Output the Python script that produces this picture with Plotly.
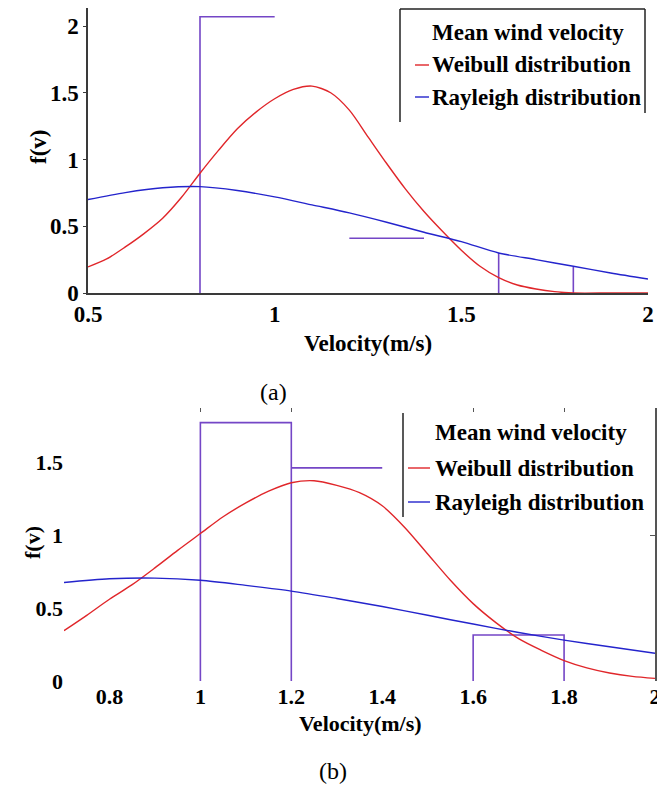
import plotly.graph_objects as go

# page window is 665x788; the browser body margin adds an 8px offset,
# so the figure is 8px smaller and positions are measured from (8, 8)
OFF = 8
W, H = 665 - OFF, 788 - OFF

# ---------------- data ----------------
# Panel (a)
a_weibull_x = [0.5, 0.55, 0.6, 0.65, 0.7, 0.75, 0.8, 0.85, 0.9, 0.95, 1.0, 1.05, 1.1,
               1.15, 1.2, 1.25, 1.3, 1.35, 1.4, 1.45, 1.5, 1.55, 1.6, 1.65, 1.7, 1.75,
               1.8, 1.9, 2.0]
a_weibull_y = [0.195, 0.255, 0.345, 0.445, 0.56, 0.715, 0.897, 1.07, 1.23, 1.355, 1.455, 1.525, 1.55,
               1.50, 1.37, 1.17, 0.97, 0.78, 0.61, 0.46, 0.32, 0.20, 0.115, 0.06, 0.03, 0.01,
               0.0, 0.0, 0.0]
a_rayleigh_x = [0.5, 0.6, 0.7, 0.8, 0.9, 1.0, 1.1, 1.2, 1.3, 1.4, 1.5, 1.6, 1.7, 1.8, 1.9, 2.0]
a_rayleigh_y = [0.70, 0.752, 0.788, 0.797, 0.768, 0.72, 0.66, 0.60, 0.53, 0.455, 0.385,
                0.30, 0.25, 0.20, 0.15, 0.105]
a_mean_x = [0.8, 0.8, 1.0, None, 1.2, 1.4, None, 1.6, 1.6, None, 1.8, 1.8]
a_mean_y = [0, 2.07, 2.07, None, 0.41, 0.41, None, 0, 0.30, None, 0, 0.195]

# Panel (b)
b_weibull_x = [0.7, 0.75, 0.8, 0.85, 0.9, 0.95, 1.0, 1.05, 1.1, 1.15, 1.2, 1.25, 1.3,
               1.35, 1.4, 1.45, 1.5, 1.55, 1.6, 1.65, 1.7, 1.75, 1.8, 1.85, 1.9, 1.95, 2.0]
b_weibull_y = [0.345, 0.45, 0.56, 0.66, 0.775, 0.895, 1.01, 1.125, 1.22, 1.30, 1.358, 1.372,
               1.34, 1.29, 1.20, 1.05, 0.87, 0.69, 0.53, 0.40, 0.29, 0.21, 0.14, 0.09,
               0.055, 0.032, 0.018]
b_rayleigh_x = [0.7, 0.8, 0.9, 1.0, 1.1, 1.2, 1.3, 1.4, 1.5, 1.6, 1.7, 1.8, 1.9, 2.0]
b_rayleigh_y = [0.675, 0.70, 0.705, 0.69, 0.655, 0.616, 0.565, 0.51, 0.45, 0.39,
                0.332, 0.28, 0.235, 0.19]
b_mean_x = [1.0, 1.0, 1.2, 1.2, None, 1.2, 1.4, None, 1.6, 1.6, 1.8, 1.8]
b_mean_y = [0, 1.77, 1.77, 0, None, 1.46, 1.46, None, 0, 0.315, 0.315, 0]

a_xticks = [0.5, 1, 1.5, 2]
a_xticktext = ["0.5", "1", "1.5", "2"]
a_yticks = [0, 0.5, 1, 1.5, 2]
a_yticktext = ["0", "0.5", "1", "1.5", "2"]
b_xticks = [0.8, 1, 1.2, 1.4, 1.6, 1.8, 2]
b_xticktext = ["0.8", "1", "1.2", "1.4", "1.6", "1.8", "2"]
b_yticks = [0, 0.5, 1, 1.5]
b_yticktext = ["0", "0.5", "1", "1.5"]
b_top_ticks = [1, 1.2, 1.6, 1.8]

legend_labels = ["Mean wind velocity", "Weibull distribution", "Rayleigh distribution"]

# ---------------- style ----------------
RED = "#e0262a"
BLUE = "#2424cc"
PURPLE = "#7446c6"
FONT = "Liberation Serif"
AX = "#3a3a3a"


def px(x):
    return min(max((x - OFF) / W, 0.0), 1.0)


def py(y):
    return min(max(1 - (y - OFF) / H, 0.0), 1.0)


fig = go.Figure()
curve = dict(width=1.4, shape="spline", smoothing=0.8)

# panel (a)
fig.add_trace(go.Scatter(x=a_mean_x, y=a_mean_y, mode="lines", line=dict(color=PURPLE, width=1.6),
                         xaxis="x", yaxis="y", showlegend=False, name=legend_labels[0]))
fig.add_trace(go.Scatter(x=a_weibull_x, y=a_weibull_y, mode="lines", line=dict(curve, color=RED),
                         xaxis="x", yaxis="y", showlegend=False, name=legend_labels[1]))
fig.add_trace(go.Scatter(x=a_rayleigh_x, y=a_rayleigh_y, mode="lines", line=dict(curve, color=BLUE),
                         xaxis="x", yaxis="y", showlegend=False, name=legend_labels[2]))

# panel (b)
fig.add_trace(go.Scatter(x=b_mean_x, y=b_mean_y, mode="lines", line=dict(color=PURPLE, width=1.6),
                         xaxis="x2", yaxis="y2", showlegend=False, name=legend_labels[0]))
fig.add_trace(go.Scatter(x=b_weibull_x, y=b_weibull_y, mode="lines", line=dict(curve, color=RED),
                         xaxis="x2", yaxis="y2", showlegend=False, name=legend_labels[1]))
fig.add_trace(go.Scatter(x=b_rayleigh_x, y=b_rayleigh_y, mode="lines", line=dict(curve, color=BLUE),
                         xaxis="x2", yaxis="y2", showlegend=False, name=legend_labels[2]))
# empty traces to activate overlay axes of panel (b)
fig.add_trace(go.Scatter(x=[], y=[], xaxis="x3", yaxis="y2", showlegend=False, hoverinfo="skip"))
fig.add_trace(go.Scatter(x=[], y=[], xaxis="x2", yaxis="y3", showlegend=False, hoverinfo="skip"))

tickfont = dict(family=FONT, size=23, color="black", weight="bold")

fig.update_layout(
    width=W, height=H,
    margin=dict(l=0, r=0, t=0, b=0, pad=0, autoexpand=False),
    showlegend=False,
    paper_bgcolor="white", plot_bgcolor="white",
    xaxis=dict(domain=[px(88), px(648)], anchor="y", range=[0.5, 2.0], automargin=False,
               tickvals=a_xticks, ticktext=a_xticktext, tickfont=tickfont,
               showline=True, linecolor=AX, linewidth=1.5, ticks="", showgrid=False,
               zeroline=False),
    yaxis=dict(domain=[py(293), py(8)], anchor="x", range=[0, 2.135], automargin=False,
               tickvals=a_yticks, ticktext=a_yticktext, tickfont=tickfont,
               showline=True, linecolor=AX, linewidth=1.5, ticks="outside", ticklen=3,
               tickcolor=AX, showgrid=False, zeroline=False),
    xaxis2=dict(domain=[px(64), px(655)], anchor="y2", range=[0.7, 2.0], automargin=False,
                tickvals=b_xticks, ticktext=b_xticktext, tickfont=dict(tickfont, size=22),
                showline=False, ticks="", showgrid=False, zeroline=False),
    yaxis2=dict(domain=[py(681), py(408)], anchor="x2", range=[0, 1.87], automargin=False,
                tickvals=b_yticks, ticktext=b_yticktext, tickfont=dict(tickfont, size=22),
                showline=False, ticks="", showgrid=False, zeroline=False),
    xaxis3=dict(overlaying="x2", anchor="y2", side="top", range=[0.7, 2.0], automargin=False,
                tickvals=b_top_ticks, showticklabels=False, ticks="inside", ticklen=4,
                tickcolor="#555", showline=False, showgrid=False, zeroline=False),
    yaxis3=dict(overlaying="y2", anchor="x2", side="right", range=[0, 1.87], automargin=False,
                tickvals=[1], showticklabels=False, ticks="inside", ticklen=5,
                tickcolor="#555", showline=True, linecolor="#555", linewidth=1.5,
                showgrid=False, zeroline=False),
)

annots = []


def note(text, x, y, font, angle=0, xanchor="center"):
    annots.append(dict(text=text, x=px(x), y=py(y), xref="paper", yref="paper",
                       xanchor=xanchor, yanchor="middle", textangle=angle,
                       showarrow=False, font=font))


title_font = dict(family=FONT, size=23, color="black", weight="bold")
# axis titles
note("f(v)", 38, 147, title_font, angle=-90)
note("Velocity(m/s)", 368, 343, title_font)
note("f(v)", 32, 543, dict(title_font, size=22), angle=-90)
note("Velocity(m/s)", 360, 723, dict(title_font, size=22))
# captions
cap_font = dict(family=FONT, size=24, color="black")
note("(a)", 273, 392, cap_font)
note("(b)", 333, 771, cap_font)

# legends (custom, as in the original figure)
leg_font = dict(family=FONT, size=23, color="black", weight="bold")
for lbl, yy in zip(legend_labels, [32, 65, 97]):
    note(lbl, 430, yy, leg_font, xanchor="left")
for lbl, yy in zip(legend_labels, [433, 468, 502]):
    note(lbl, 433, yy, leg_font, xanchor="left")

fig.update_layout(annotations=annots)

shapes = []


def seg(x0, y0, x1, y1, color="#222", width=1.5):
    shapes.append(dict(type="line", xref="paper", yref="paper",
                       x0=px(x0), y0=py(y0), x1=px(x1), y1=py(y1),
                       line=dict(color=color, width=width)))


# legend (a) box + swatches
seg(400, 9, 400, 122)
seg(400, 9, 645, 9)
seg(645, 9, 645, 113)
seg(415, 65, 429, 65, RED, 1.4)
seg(415, 97, 429, 97, BLUE, 1.4)
# legend (b) box + swatches
seg(403, 413, 403, 517)
seg(408, 468, 430, 468, RED, 1.4)
seg(408, 502, 430, 502, BLUE, 1.4)

fig.update_layout(shapes=shapes)

fig.write_html("out.html")
